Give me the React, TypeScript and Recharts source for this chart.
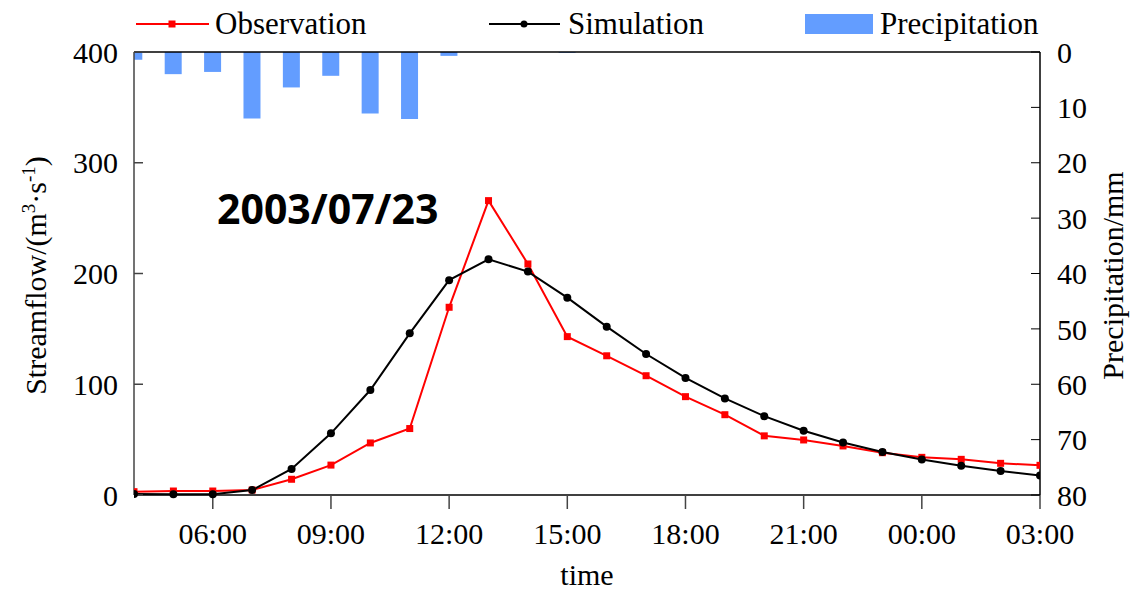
import React from "react";
import {
  ComposedChart,
  Line,
  Bar,
  XAxis,
  YAxis,
  Legend,
  ReferenceLine,
  Label,
} from "recharts";

// hourly time steps, 2003/07/23 04:00 -> 07/24 03:00
const hours = [
  "04:00", "05:00", "06:00", "07:00", "08:00", "09:00", "10:00", "11:00",
  "12:00", "13:00", "14:00", "15:00", "16:00", "17:00", "18:00", "19:00",
  "20:00", "21:00", "22:00", "23:00", "00:00", "01:00", "02:00", "03:00",
];

const observation = [
  3.0, 3.6, 3.6, 4.5, 14.2, 27.0, 47.0, 60.0, 169.5, 265.8, 208.6, 143.0,
  125.7, 107.7, 88.8, 72.5, 53.4, 49.7, 44.3, 38.2, 34.0, 32.2, 28.6, 26.8,
];

const simulation = [
  0.8, 0.6, 0.6, 4.5, 23.5, 55.7, 94.8, 146.0, 194.0, 212.8, 201.7, 178.2,
  152.0, 127.3, 105.7, 87.2, 71.2, 58.0, 47.4, 38.8, 32.0, 26.4, 21.6, 17.7,
];

const precipitation = [
  1.4, 4.0, 3.6, 12.0, 6.4, 4.3, 11.1, 12.1, 0.7, 0, 0, 0.15,
  0, 0, 0, 0, 0, 0, 0, 0, 0, 0, 0, 0,
];

const xTicks = [2, 5, 8, 11, 14, 17, 20, 23];
const flowTicks = [0, 100, 200, 300, 400];
const rainTicks = [0, 10, 20, 30, 40, 50, 60, 70, 80];

const data = hours.map((h, i) => ({
  t: i,
  label: h,
  obs: observation[i],
  sim: simulation[i],
  pre: precipitation[i],
}));

const FONT = "'Liberation Serif', 'Times New Roman', serif";
const tickStyle = { fontSize: 30, fill: "#000", fontFamily: FONT };

function SquareDot(props: any) {
  const { cx, cy, index } = props;
  if (cx == null || cy == null) return null;
  return (
    <rect key={`sq-${index}`} x={cx - 3.5} y={cy - 3.5} width={7} height={7} fill="#ff0000" />
  );
}

function LegendContent() {
  return (
    <svg width={1144} height={50} style={{ fontFamily: FONT }}>
      <line x1={136} x2={209} y1={24} y2={24} stroke="#ff0000" strokeWidth={2} />
      <rect x={168.5} y={20.5} width={7} height={7} fill="#ff0000" />
      <text x={215} y={34} fontSize={31}>Observation</text>

      <line x1={489} x2={560} y1={24} y2={24} stroke="#000" strokeWidth={2} />
      <circle cx={524} cy={24} r={3.5} fill="#000" />
      <text x={568} y={34} fontSize={31}>Simulation</text>

      <rect x={805} y={14} width={68} height={20} fill="#639dff" />
      <text x={880} y={34} fontSize={31}>Precipitation</text>
    </svg>
  );
}

function FlowLabel(props: any) {
  const { viewBox } = props;
  const x = viewBox.x + 46;
  const y = viewBox.y + viewBox.height / 2 + 2;
  return (
    <text
      x={x}
      y={y}
      transform={`rotate(-90 ${x} ${y})`}
      textAnchor="middle"
      fontSize={30}
      fontFamily={FONT}
      fill="#000"
    >
      Streamflow/(m
      <tspan dy={-11} fontSize={19}>3</tspan>
      <tspan dy={11}>·s</tspan>
      <tspan dy={-11} fontSize={19}>-1</tspan>
      <tspan dy={11}>)</tspan>
    </text>
  );
}

function RainLabel(props: any) {
  const { viewBox } = props;
  const x = viewBox.x + 83;
  const y = viewBox.y + viewBox.height / 2 + 2;
  return (
    <text
      x={x}
      y={y}
      transform={`rotate(-90 ${x} ${y})`}
      textAnchor="middle"
      fontSize={30}
      fontFamily={FONT}
      fill="#000"
    >
      Precipitation/mm
    </text>
  );
}

export default function App() {
  return (
    <div style={{ position: "absolute", left: 0, top: 0, width: 1144, height: 593, fontFamily: FONT }}>
      <ComposedChart
        width={1144}
        height={593}
        data={data}
        margin={{ top: 52, right: 0, bottom: 0, left: 0 }}
      >
        <XAxis
          type="number"
          dataKey="t"
          domain={[0, 23]}
          ticks={xTicks}
          interval={0}
          allowDataOverflow
          tickFormatter={(v: number) => hours[v]}
          tick={tickStyle}
          tickSize={14}
          tickMargin={14}
          height={98}
          axisLine={{ stroke: "#000", strokeWidth: 1.5 }}
          tickLine={{ stroke: "#444", strokeWidth: 1.5 }}
        >
          <Label
            value="time"
            position="insideBottom"
            offset={8}
            style={{ fontSize: 30, fill: "#000", fontFamily: FONT }}
          />
        </XAxis>
        <YAxis
          yAxisId="left"
          domain={[0, 400]}
          ticks={flowTicks}
          interval={0}
          width={134}
          tick={tickStyle}
          tickSize={-9}
          tickMargin={25}
          axisLine={{ stroke: "#444", strokeWidth: 1.5 }}
          tickLine={{ stroke: "#444", strokeWidth: 1.5 }}
          label={<FlowLabel />}
        />
        <YAxis
          yAxisId="right"
          orientation="right"
          reversed
          domain={[0, 80]}
          ticks={rainTicks}
          interval={0}
          width={104}
          tick={tickStyle}
          tickSize={-9}
          tickMargin={26}
          axisLine={{ stroke: "#000", strokeWidth: 1.5 }}
          tickLine={{ stroke: "#000", strokeWidth: 1 }}
          label={<RainLabel />}
        />
        <ReferenceLine yAxisId="left" y={400} stroke="#000" strokeWidth={1.5} />
        <Legend
          verticalAlign="middle"
          align="center"
          wrapperStyle={{ top: 0, left: 0, width: 1144, height: 50 }}
          content={<LegendContent />}
        />
        <Bar
          yAxisId="right"
          dataKey="pre"
          barSize={17}
          fill="#639dff"
          isAnimationActive={false}
        />
        <Line
          yAxisId="left"
          dataKey="obs"
          stroke="#ff0000"
          strokeWidth={2}
          dot={<SquareDot />}
          activeDot={false}
          isAnimationActive={false}
        />
        <Line
          yAxisId="left"
          dataKey="sim"
          stroke="#000"
          strokeWidth={2}
          dot={{ r: 4, fill: "#000", stroke: "#000", strokeWidth: 0 }}
          activeDot={false}
          isAnimationActive={false}
        />
      </ComposedChart>
      <svg
        width={1144}
        height={593}
        style={{ position: "absolute", left: 0, top: 0, pointerEvents: "none" }}
      >
        <text
          x={217}
          y={224}
          fontSize={41}
          fontWeight={700}
          fontFamily="'Open Sans', 'Noto Sans', sans-serif"
          fill="#000"
        >
          2003/07/23
        </text>
      </svg>
    </div>
  );
}
